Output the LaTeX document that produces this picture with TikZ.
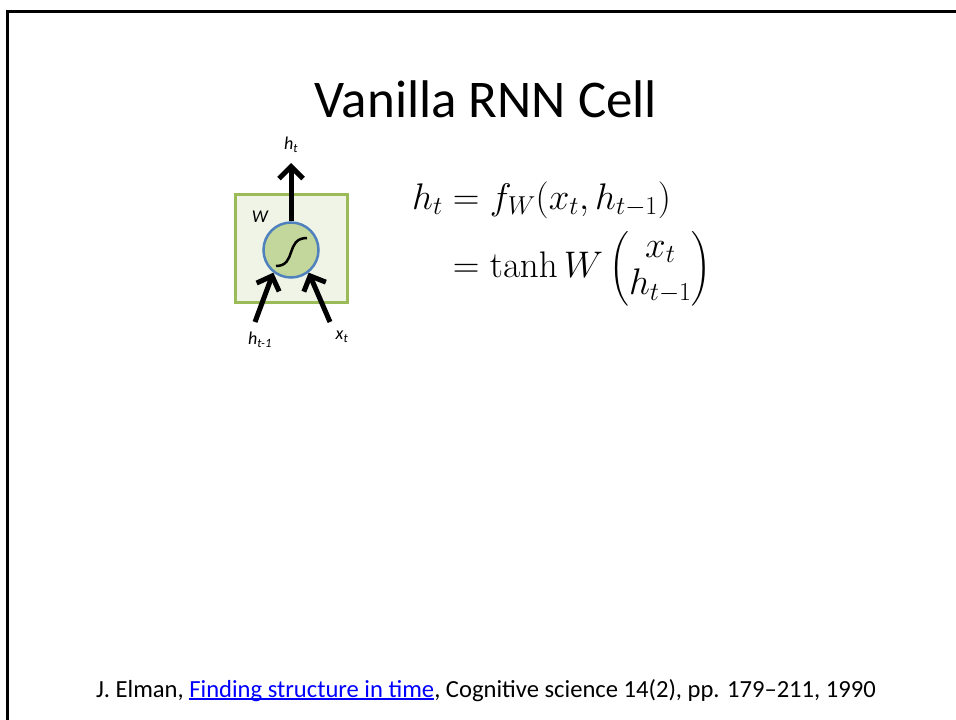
\RequirePackage{fix-cm}
\documentclass[tikz,border=0pt]{standalone}
\usepackage{amsmath}
\usepackage[no-math]{fontspec}
\setmainfont{Carlito}
\usepackage{xcolor}
\usetikzlibrary{arrows.meta}
\definecolor{rnnGreen}{HTML}{9BBB59}
\definecolor{rnnPale}{HTML}{EFF4E7}
\definecolor{rnnLeaf}{HTML}{C3D69B}
\definecolor{rnnBlue}{HTML}{4F81BD}
\definecolor{rnnLink}{HTML}{0000FF}
\newcommand\rnnlink[1]{{\color{rnnLink}\setbox0\hbox{#1}\rlap{\rule[-2.5pt]{\wd0}{1.3pt}}\box0}}
\newcommand\rnnvec[2]{\Bigl(\renewcommand{\arraystretch}{0.9}\begin{array}{@{}c@{}}#1\\#2\end{array}\Bigr)}
\tikzset{
  rnn slide/.style={x=1pt, y=-1pt, line cap=butt, line join=miter},
  rnn title/.style={font=\fontsize{53}{60}\selectfont, anchor=base},
  rnn box/.style={draw=rnnGreen, fill=rnnPale, line width=3pt,
    minimum width=112pt, minimum height=108pt, inner sep=0pt},
  rnn cell/.style={circle, draw=rnnBlue, fill=rnnLeaf, line width=2.5pt,
    minimum size=55pt, inner sep=0pt},
  rnn arrow/.style={-{Straight Barb[length=12pt,width=24pt]}, line width=5pt},
  rnn label/.style={font=\fontsize{18}{20}\selectfont\itshape, inner sep=1pt},
  rnn eqn/.style={font=\fontsize{37}{42}\selectfont, anchor=base west, inner sep=0pt},
  rnn cite/.style={font=\fontsize{24.6}{28}\selectfont, anchor=base}
}
\begin{document}
\begin{tikzpicture}[rnn slide]
\useasboundingbox (0,0) rectangle (956,720);
\draw[line width=3pt] (7,720) -- (7,11) -- (956,11);
\node[rnn title] (title) at (486,117) {Vanilla RNN Cell};

% the cell
\node[rnn box] (cellbox) at (291,248) {};
\node[rnn cell] (cell) at (291,250) {};
\draw[line width=2.5pt] (276,266) .. controls (297,266) and (285,238) .. (307,238);
\node[rnn label] (wlabel) at (260,217) {W};

\coordinate (httip) at (291,163);
\coordinate (hin) at (255,322);
\coordinate (xin) at (330,322);
\draw[rnn arrow] (cell.north) -- (httip);
\draw[rnn arrow] (hin) -- (cell.232);
\draw[rnn arrow] (xin) -- (cell.308);
\node[rnn label] (htlabel) at (291,145) {h\textsubscript{t}};
\node[rnn label] (hlabel) at (260,340) {h\textsubscript{t-1}};
\node[rnn label] (xlabel) at (342,337) {x\textsubscript{t}};

\node[rnn eqn] (eqn) at (412,209) {$\begin{aligned}[t]
  h_t &= f_W(x_t, h_{t-1})\\[5pt]
      &= \tanh W\, \rnnvec{x_t}{h_{t-1}}
\end{aligned}$};

\node[rnn cite] (cite) at (486,697) {J. Elman, \rnnlink{Finding structure in time}, Cognitive science 14(2), pp. 179--211, 1990};
\end{tikzpicture}
\end{document}
